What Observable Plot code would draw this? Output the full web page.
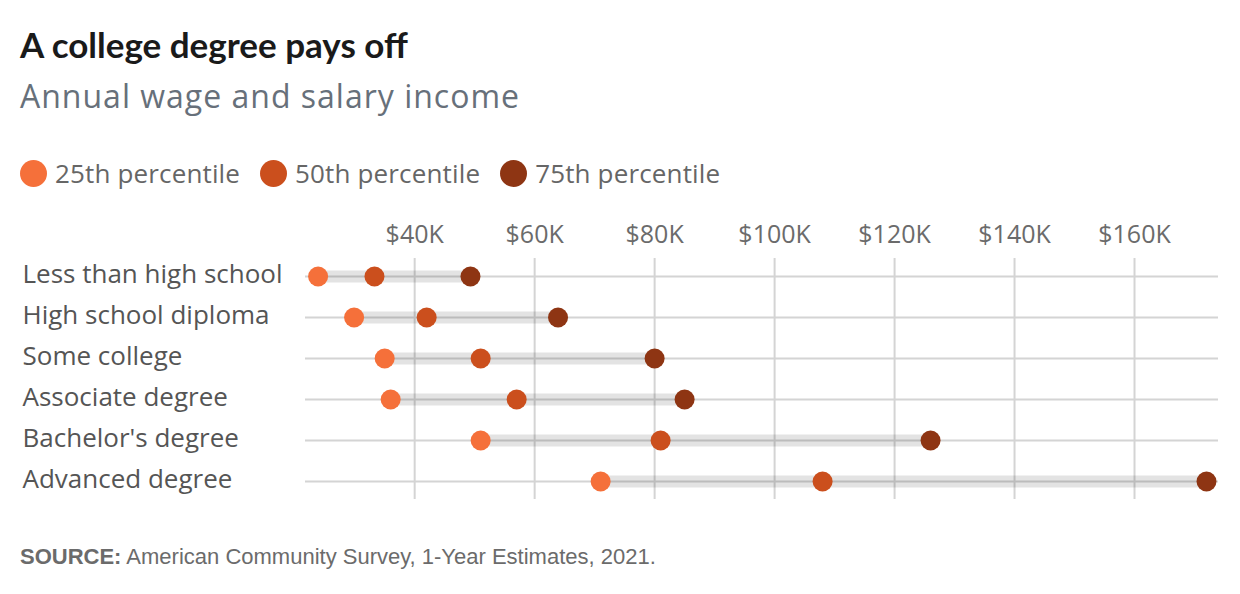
<!DOCTYPE html>
<html>
<head>
<meta charset="utf-8">
<script src="https://cdn.jsdelivr.net/npm/d3@7"></script>
<script src="https://cdn.jsdelivr.net/npm/@observablehq/plot@0.6"></script>
<style>
  html, body { margin: 0; padding: 0; background: #fff; }
  body { width: 1240px; height: 594px; position: relative; font-family: "Open Sans", Lato, sans-serif; overflow: hidden; }
  #title { position: absolute; left: 20px; top: 22px; font-family: Lato, sans-serif; font-size: 35px; font-weight: 700; color: #1a1a1a; line-height: 44px; }
  #subtitle { position: absolute; left: 20px; top: 74px; font-size: 32px; letter-spacing: 1px; color: #67707a; line-height: 44px; }
  #legend { position: absolute; left: 20px; top: 158px; display: flex; align-items: center; font-size: 26px; letter-spacing: 0.15px; color: #666; line-height: 30px; }
  #legend .item { display: flex; align-items: center; margin-right: 20px; }
  #legend .sw { width: 27px; height: 27px; border-radius: 50%; display: inline-block; margin-right: 8px; }
  #chart { position: absolute; left: 0; top: 200px; }
  #source { position: absolute; left: 20px; top: 544px; font-family: "Liberation Sans", Arial, sans-serif; font-size: 22px; color: #6b6b6b; }
</style>
</head>
<body>
<div id="title">A college degree pays off</div>
<div id="subtitle">Annual wage and salary income</div>
<div id="legend"></div>
<div id="chart"></div>
<div id="source"><b>SOURCE:</b> American Community Survey, 1-Year Estimates, 2021.</div>
<script>
const categories = ["Less than high school", "High school diploma", "Some college", "Associate degree", "Bachelor's degree", "Advanced degree"];
const p25 = [23900, 29900, 35000, 36000, 51000, 71000];
const p50 = [33300, 42000, 51000, 57000, 81000, 108000];
const p75 = [49300, 63900, 80000, 85000, 126000, 172000];
const seriesNames = ["25th percentile", "50th percentile", "75th percentile"];
const seriesColors = ["#f5703a", "#cb4f1d", "#8e3513"];
const xTicks = [40000, 60000, 80000, 100000, 120000, 140000, 160000];

const rows = categories.map((c, i) => ({category: c, p25: p25[i], p50: p50[i], p75: p75[i]}));
const points = [];
rows.forEach(r => {
  points.push({category: r.category, series: seriesNames[0], value: r.p25});
  points.push({category: r.category, series: seriesNames[1], value: r.p50});
  points.push({category: r.category, series: seriesNames[2], value: r.p75});
});

const legend = document.getElementById("legend");
seriesNames.forEach((s, i) => {
  const item = document.createElement("span");
  item.className = "item";
  item.innerHTML = `<span class="sw" style="background:${seriesColors[i]}"></span>${s}`;
  legend.appendChild(item);
});

const chart = Plot.plot({
  width: 1240,
  height: 320,
  marginLeft: 305,
  marginRight: 22,
  marginTop: 58,
  marginBottom: 21,
  style: {fontFamily: "'Open Sans', Lato, sans-serif", fontSize: "25px", color: "#6b6b6b", background: "#fff"},
  x: {domain: [21800, 174000], ticks: xTicks, tickFormat: d => `$${d / 1000}K`},
  y: {domain: categories, padding: 0.4},
  color: {domain: seriesNames, range: seriesColors},
  marks: [
    Plot.gridX(xTicks, {stroke: "#d4d4d4", strokeOpacity: 1, strokeWidth: 2}),
    Plot.gridY({stroke: "#d4d4d4", strokeOpacity: 1, strokeWidth: 2}),
    Plot.ruleY(rows, {y: "category", x1: "p25", x2: "p75", stroke: "#000", strokeOpacity: 0.11, strokeWidth: 12}),
    Plot.dot(points, {x: "value", y: "category", fill: "series", r: 10}),
    Plot.axisX({anchor: "top", ticks: xTicks, tickSize: 0, tickPadding: 16, fontSize: 25, fill: "#6b6b6b", style: "letter-spacing:0.4px", tickFormat: d => `$${d / 1000}K`}),
    Plot.axisY({ticks: [], label: null}),
    Plot.text(categories, {x: null, y: d => d, text: d => d, frameAnchor: "left", textAnchor: "start", dx: -283, dy: -2, fontSize: 26, fill: "#555", style: "letter-spacing:0.4px"})
  ]
});
document.getElementById("chart").appendChild(chart);
</script>
</body>
</html>
